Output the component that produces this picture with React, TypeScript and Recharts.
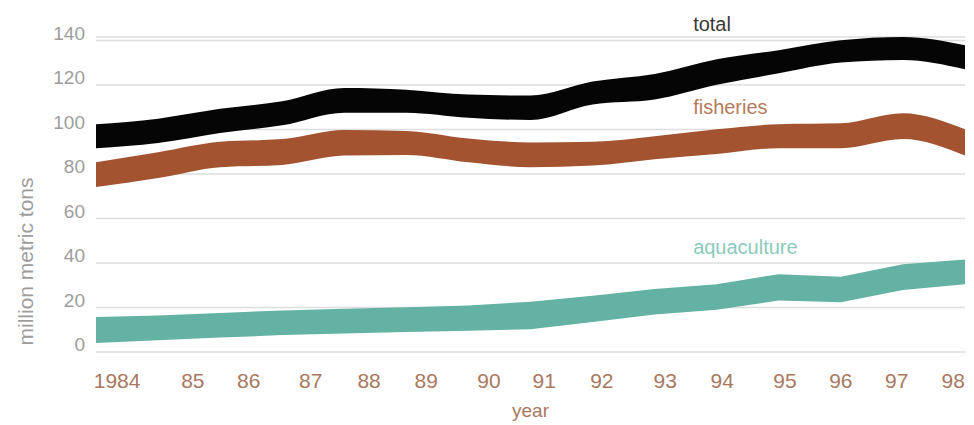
import React from 'react';
import { AreaChart, Area, XAxis, YAxis, CartesianGrid, ReferenceDot } from 'recharts';

// catch, million metric tons; each band is drawn as [low, high]
const YEARS = [1984, 1985, 1986, 1987, 1988, 1989, 1990, 1991, 1992, 1993, 1994, 1995, 1996, 1997, 1998];
const TOTAL_LOW = [91.6, 93.9, 98.4, 101.9, 107.6, 107.6, 105.3, 104.3, 111.3, 113.5, 120.1, 125.3, 130.1, 131.3, 127.1];
const TOTAL_HIGH = [102.4, 104.9, 109.3, 112.7, 118.7, 117.9, 115.7, 115.3, 121.6, 125.0, 131.6, 135.7, 140.1, 141.6, 137.9];
const FISH_LOW = [74.2, 78.2, 83.1, 84.1, 88.3, 88.6, 85.3, 83.1, 83.8, 86.7, 89.0, 91.6, 91.6, 95.7, 88.3];
const FISH_HIGH = [85.3, 89.8, 94.5, 95.7, 99.8, 99.4, 96.0, 94.2, 94.5, 97.0, 100.1, 102.4, 102.8, 107.3, 100.1];
const AQUA_LOW = [4.1, 5.3, 6.5, 7.6, 8.3, 9.0, 9.5, 10.2, 13.5, 16.9, 19.0, 23.1, 22.4, 27.9, 30.5];
const AQUA_HIGH = [15.7, 16.4, 17.5, 18.7, 19.4, 20.1, 20.9, 22.6, 25.3, 28.3, 30.5, 35.0, 33.8, 39.4, 41.6];

const Y_TICKS = [0, 20, 40, 60, 80, 100, 120, 140];
// the original places its year labels a little off the data points
const X_TICK_AT = [1984.34, 1985.56, 1986.46, 1987.46, 1988.4, 1989.32, 1990.33, 1991.22, 1992.15, 1993.17, 1994.09, 1995.1, 1996.0, 1996.9, 1997.81];
const X_TICK_LABELS = ['1984', '85', '86', '87', '88', '89', '90', '91', '92', '93', '94', '95', '96', '97', '98'];

const SERIES_LABELS = [
  { name: 'total', x: 1993.62, y: 144.4, color: '#3a3a3a' },
  { name: 'fisheries', x: 1993.62, y: 107.1, color: '#b57a5a' },
  { name: 'aquaculture', x: 1993.62, y: 44, color: '#8ccabd' },
];

const COLORS = {
  total: '#050505',
  fisheries: '#a3532f',
  aquaculture: '#63b2a3',
  grid: '#dedede',
  yText: '#9d9d9d',
  xText: '#a9785f',
};

const FONT = '"Liberation Sans", Arial, Helvetica, sans-serif';

const data = YEARS.map((year, i) => ({
  year,
  total: [TOTAL_LOW[i], TOTAL_HIGH[i]],
  fisheries: [FISH_LOW[i], FISH_HIGH[i]],
  aquaculture: [AQUA_LOW[i], AQUA_HIGH[i]],
}));

const YTick = (props: any) => {
  const { x, y, payload } = props;
  return (
    <text x={x} y={y} dy={-1} textAnchor="end" fontSize={19} fontFamily={FONT} fill={COLORS.yText}>
      {payload.value}
    </text>
  );
};

const XTick = (props: any) => {
  const { x, y, payload, index } = props;
  return (
    <text x={x} y={y} dy={15} textAnchor="middle" fontSize={21} fontFamily={FONT} fill={COLORS.xText}>
      {X_TICK_LABELS[index] ?? payload.value}
    </text>
  );
};

export default function App() {
  return (
    <div style={{ position: 'absolute', left: 0, top: 0, width: 974, height: 425, background: '#fff' }}>
      <AreaChart width={974} height={425} data={data} margin={{ top: 37, right: 9, left: 0, bottom: 3 }}>
        <CartesianGrid vertical={false} stroke={COLORS.grid} strokeWidth={1.5} />
        <XAxis
          dataKey="year"
          type="number"
          domain={[1984, 1998]}
          ticks={X_TICK_AT}
          interval={0}
          axisLine={false}
          tickLine={false}
          tickSize={0}
          tickMargin={21}
          height={70}
          tick={<XTick />}
          label={(p: any) => (
            <text
              x={p.viewBox.x + p.viewBox.width / 2}
              y={p.viewBox.y + p.viewBox.height - 5}
              textAnchor="middle"
              fontSize={19}
              fontFamily={FONT}
              fill={COLORS.xText}
            >
              year
            </text>
          )}
        />
        <YAxis
          type="number"
          domain={[0, 140]}
          ticks={Y_TICKS}
          interval={0}
          width={96}
          axisLine={false}
          tickLine={false}
          tickSize={0}
          tickMargin={11}
          tick={<YTick />}
          label={(p: any) => {
            const cx = 33;
            const cy = p.viewBox.y + p.viewBox.height / 2 + 67;
            return (
              <text
                x={cx}
                y={cy}
                transform={`rotate(-90, ${cx}, ${cy})`}
                textAnchor="middle"
                fontSize={21}
                fontFamily={FONT}
                fill={COLORS.yText}
              >
                million metric tons
              </text>
            );
          }}
        />
        <Area
          dataKey="aquaculture"
          type="linear"
          stroke="none"
          fill={COLORS.aquaculture}
          fillOpacity={1}
          isAnimationActive={false}
        />
        <Area
          dataKey="fisheries"
          type="monotone"
          stroke="none"
          fill={COLORS.fisheries}
          fillOpacity={1}
          isAnimationActive={false}
        />
        <Area
          dataKey="total"
          type="monotone"
          stroke="none"
          fill={COLORS.total}
          fillOpacity={1}
          isAnimationActive={false}
        />
        {SERIES_LABELS.map((s) => (
          <ReferenceDot
            key={s.name}
            x={s.x}
            y={s.y}
            r={0}
            stroke="none"
            fill="none"
            ifOverflow="visible"
            label={(p: any) => (
              <text
                x={p.viewBox.x + (p.viewBox.width || 0) / 2}
                y={p.viewBox.y + (p.viewBox.height || 0) / 2}
                textAnchor="start"
                fontSize={20}
                fontFamily={FONT}
                fill={s.color}
              >
                {s.name}
              </text>
            )}
          />
        ))}
      </AreaChart>
    </div>
  );
}
